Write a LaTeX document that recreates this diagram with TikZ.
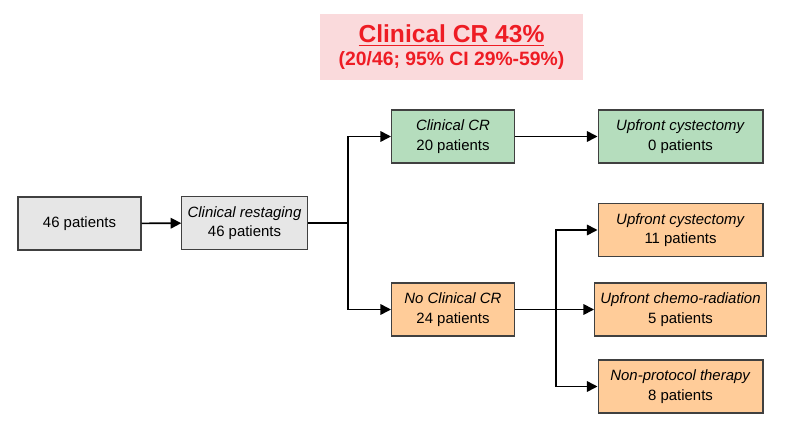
\documentclass[tikz,border=0pt]{standalone}
\usepackage{fontspec}
\setmainfont{Liberation Sans}
\usetikzlibrary{arrows.meta}
\definecolor{boxgray}{HTML}{E6E6E6}
\definecolor{boxgreen}{HTML}{B5DDBD}
\definecolor{boxorange}{HTML}{FFCC99}
\definecolor{boxpink}{HTML}{FADADC}
\definecolor{titlered}{HTML}{EE1C24}
\begin{document}
\begin{tikzpicture}[x=0.02cm,y=-0.02cm,
  box/.style={draw=black!75, line width=0.6pt, minimum width=2.46cm, minimum height=1.06cm, align=center, font=\fontsize{8.5}{11}\selectfont},
  wide/.style={box, minimum width=3.3cm},
  link/.style={line width=0.9pt, -{Triangle[length=6pt,width=6pt]}},
  trunk/.style={line width=0.9pt}]
\useasboundingbox (0,0) rectangle (786,432);

% Title box
\node[fill=boxpink, minimum width=5.26cm, minimum height=1.32cm, align=center, text=titlered, font=\bfseries] (title) at (451.5,47)
  {{\fontsize{14}{17}\selectfont\underline{Clinical CR 43\%}}\\[1pt]{\fontsize{11}{13}\selectfont(20/46; 95\% CI 29\%-59\%)}};

% Boxes
\node[box, fill=boxgray] (start) at (79.5,223.5) {46 patients};
\node[box, fill=boxgray] (restage) at (244.5,223) {\textit{Clinical restaging}\\46 patients};
\node[box, fill=boxgreen] (cr) at (453,136.5) {\textit{Clinical CR}\\20 patients};
\node[box, fill=boxorange] (nocr) at (453,309.5) {\textit{No Clinical CR}\\24 patients};
\node[wide, fill=boxgreen] (crcyst) at (680.5,136.5) {\textit{Upfront cystectomy}\\0 patients};
\node[wide, fill=boxorange] (cyst) at (680.5,230) {\textit{Upfront cystectomy}\\11 patients};
\node[wide, fill=boxorange] (chemo) at (680.5,309.5) {\textit{Upfront chemo-radiation}\\5 patients};
\node[wide, fill=boxorange] (nonprot) at (680.5,386.5) {\textit{Non-protocol therapy}\\8 patients};

% Connectors
\coordinate (split1) at (348,223);
\coordinate (split2) at (556,309.5);
\draw[link] (start) -- (restage);
\draw[trunk] (restage) -- (split1);
\draw[link] (split1) |- (cr);
\draw[link] (split1) |- (nocr);
\draw[link] (cr) -- (crcyst);
\draw[trunk] (nocr) -- (split2);
\draw[link] (split2) |- (cyst);
\draw[link] (split2) -- (chemo);
\draw[link] (split2) |- (nonprot);
\end{tikzpicture}
\end{document}
